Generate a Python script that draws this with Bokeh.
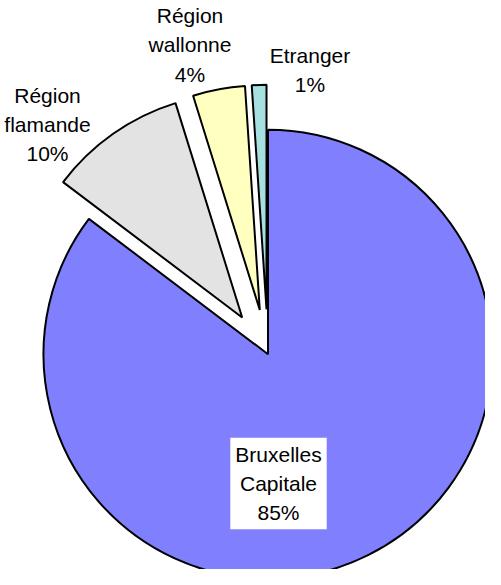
from bokeh.plotting import figure
from bokeh.models import ColumnDataSource, Range1d
from bokeh.core.properties import value
from bokeh.embed import file_html
from bokeh.resources import INLINE
import numpy as np

# ---- data ----
categories = ["Bruxelles Capitale", "Région flamande", "Région wallonne", "Etranger"]
shares = [85.3, 9.9, 3.75, 1.05]
pct_labels = ["85%", "10%", "4%", "1%"]
label_texts = ["Bruxelles\nCapitale\n85%", "Région\nflamande\n10%", "Région\nwallonne\n4%", "Etranger\n1%"]
colors = ["#8080FF", "#E3E3E3", "#FFFFC0", "#A6E0E0"]
explode = [0.0, 0.2, 0.2, 0.2]

# ---- layout ----
R = 224.5
W, H = 485, 569
cx_px, cy_px = 275.5, 361.7  # pie centre in page pixels (incl. 8px margin)

vals = np.array(shares, dtype=float)
frac = vals / vals.sum()
cum_end = np.cumsum(frac)
cum_start = cum_end - frac
start = np.pi / 2 - cum_start * 2 * np.pi
end = np.pi / 2 - cum_end * 2 * np.pi
mid = (start + end) / 2
xs = np.array(explode) * R * np.cos(mid)
ys = np.array(explode) * R * np.sin(mid)

src = ColumnDataSource(dict(x=xs, y=ys, start=start, end=end, color=colors, cat=categories))

p = figure(width=W, height=H, output_backend="svg", toolbar_location=None,
           x_range=Range1d(8 - cx_px, 8 + W - cx_px),
           y_range=Range1d(cy_px - (8 + H), cy_px - 8),
           min_border=0)
p.axis.visible = False
p.grid.visible = False
p.outline_line_color = None
p.background_fill_color = "white"

p.wedge(x="x", y="y", radius=R, start_angle="start", end_angle="end", direction="clock",
        fill_color="color", line_color="black", line_width=2, source=src)

# label positions (page pixels)
lab_px = [(286, 491), (55, 132), (197.5, 52.5), (317.5, 77.4)]
lx = [a - cx_px for a, b in lab_px]
ly = [cy_px - b for a, b in lab_px]

p.text(x=lx[:1], y=ly[:1], text=label_texts[:1], text_align="center", text_baseline="middle",
       text_font=value("Liberation Sans"), text_font_size="21px", text_line_height=1.27,
       text_color="black", background_fill_color="white", padding=5)
p.text(x=lx[1:], y=ly[1:], text=label_texts[1:], text_align="center", text_baseline="middle",
       text_font=value("Liberation Sans"), text_font_size="21px", text_line_height=1.27,
       text_color="black")

open("out.html", "w").write(file_html(p, INLINE))
